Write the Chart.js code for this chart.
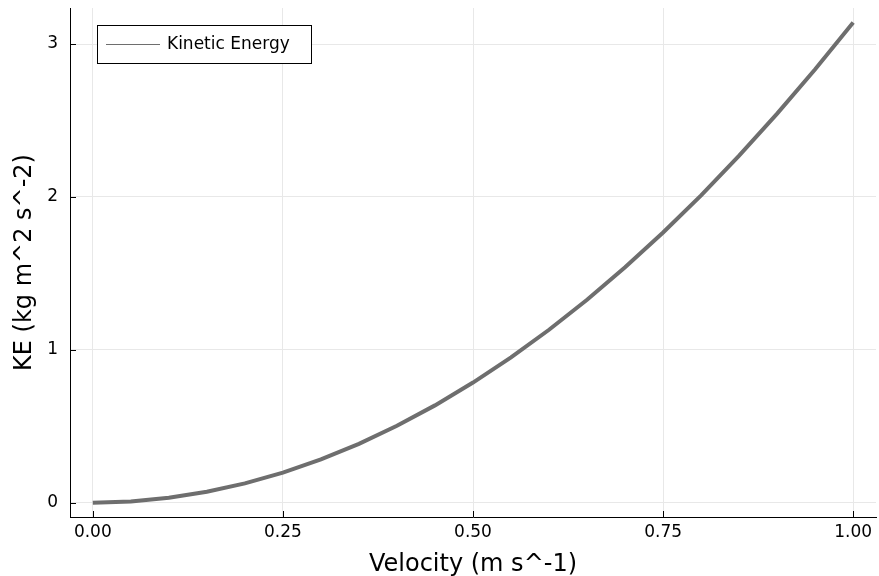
<!DOCTYPE html>
<html>
<head>
<meta charset="utf-8">
<script src="https://cdn.jsdelivr.net/npm/chart.js@4"></script>
<style>
html,body{margin:0;padding:0;background:#fff;}
#wrap{width:879px;height:576px;position:relative;}
</style>
</head>
<body>
<div id="wrap"><canvas id="c" width="879" height="576"></canvas></div>
<script>
const velocity = [0, 0.05, 0.10, 0.15, 0.20, 0.25, 0.30, 0.35, 0.40, 0.45, 0.50, 0.55, 0.60, 0.65, 0.70, 0.75, 0.80, 0.85, 0.90, 0.95, 1.00];
const kineticEnergy = [0, 0.0079, 0.0314, 0.0707, 0.1257, 0.1963, 0.2827, 0.3848, 0.5027, 0.6362, 0.7854, 0.9503, 1.1310, 1.3273, 1.5394, 1.7671, 2.0106, 2.2698, 2.5447, 2.8353, 3.1416];
const xTicks = [0, 0.25, 0.5, 0.75, 1.0];
const xTickLabels = ["0.00", "0.25", "0.50", "0.75", "1.00"];
const yTicks = [0, 1, 2, 3];
const yTickLabels = ["0", "1", "2", "3"];
const seriesName = "Kinetic Energy";

const FONT = "'DejaVu Sans', sans-serif";
const LINE = "#6e6e6e";

const innerTicks = {
  id: 'innerTicks',
  afterDraw(chart) {
    const ctx = chart.ctx, a = chart.chartArea;
    const xs = chart.scales.x, ys = chart.scales.y;
    ctx.save();
    ctx.strokeStyle = '#000';
    ctx.lineWidth = 1;
    ctx.beginPath();
    xTicks.forEach(v => {
      const px = Math.round(xs.getPixelForValue(v)) + 0.5;
      ctx.moveTo(px, a.bottom);
      ctx.lineTo(px, a.bottom - 6);
    });
    yTicks.forEach(v => {
      const py = Math.round(ys.getPixelForValue(v)) + 0.5;
      ctx.moveTo(a.left, py);
      ctx.lineTo(a.left + 6, py);
    });
    ctx.stroke();
    // legend
    const lx = a.left + 27, ly = 25, lw = 214, lh = 38;
    ctx.fillStyle = '#fff';
    ctx.fillRect(lx, ly, lw, lh);
    ctx.strokeStyle = '#000';
    ctx.lineWidth = 1;
    ctx.strokeRect(lx + 0.5, ly + 0.5, lw, lh);
    ctx.strokeStyle = LINE;
    ctx.beginPath();
    ctx.moveTo(lx + 9, ly + 19.5);
    ctx.lineTo(lx + 63, ly + 19.5);
    ctx.stroke();
    ctx.fillStyle = '#000';
    ctx.font = "17px " + FONT;
    ctx.textBaseline = 'middle';
    ctx.textAlign = 'left';
    ctx.fillText(seriesName, lx + 70, ly + 20);
    ctx.restore();
  }
};

new Chart(document.getElementById('c'), {
  type: 'line',
  data: {
    labels: velocity,
    datasets: [{
      label: seriesName,
      data: velocity.map((v, i) => ({x: v, y: kineticEnergy[i]})),
      borderColor: LINE,
      borderWidth: 4,
      pointRadius: 0,
      tension: 0,
      fill: false
    }]
  },
  options: {
    responsive: false,
    animation: false,
    devicePixelRatio: 1,
    layout: {padding: {top: 8, right: 3, left: 0, bottom: 0}},
    plugins: {legend: {display: false}, tooltip: {enabled: false}},
    scales: {
      x: {
        type: 'linear',
        min: -0.03, max: 1.03,
        afterBuildTicks(s) { s.ticks = xTicks.map(v => ({value: v})); },
        afterFit(s) { s.height = 59; s.paddingLeft = 0; s.paddingRight = 0; },
        ticks: {
          color: '#000',
          font: {family: FONT, size: 17},
          padding: 5,
          maxRotation: 0,
          callback: (v) => { const i = xTicks.indexOf(v); return i >= 0 ? xTickLabels[i] : ''; }
        },
        grid: {color: '#e8e8e8', lineWidth: 1, drawTicks: false},
        border: {display: true, color: '#000', width: 1},
        title: {display: true, text: 'Velocity (m s^-1)', color: '#000', font: {family: FONT, size: 24}, padding: {top: 0, bottom: -3}}
      },
      y: {
        type: 'linear',
        min: -0.094, max: 3.236,
        afterBuildTicks(s) { s.ticks = yTicks.map(v => ({value: v})); },
        afterFit(s) { s.width = 70; s.paddingTop = 0; s.paddingBottom = 0; },
        ticks: {
          color: '#000',
          font: {family: FONT, size: 17},
          padding: 12,
          callback: (v) => { const i = yTicks.indexOf(v); return i >= 0 ? yTickLabels[i] : ''; }
        },
        grid: {color: '#e8e8e8', lineWidth: 1, drawTicks: false},
        border: {display: true, color: '#000', width: 1},
        title: {display: true, text: 'KE (kg m^2 s^-2)', color: '#000', font: {family: FONT, size: 24}, padding: {top: 10, bottom: 0}}
      }
    }
  },
  plugins: [innerTicks]
});
</script>
</body>
</html>
